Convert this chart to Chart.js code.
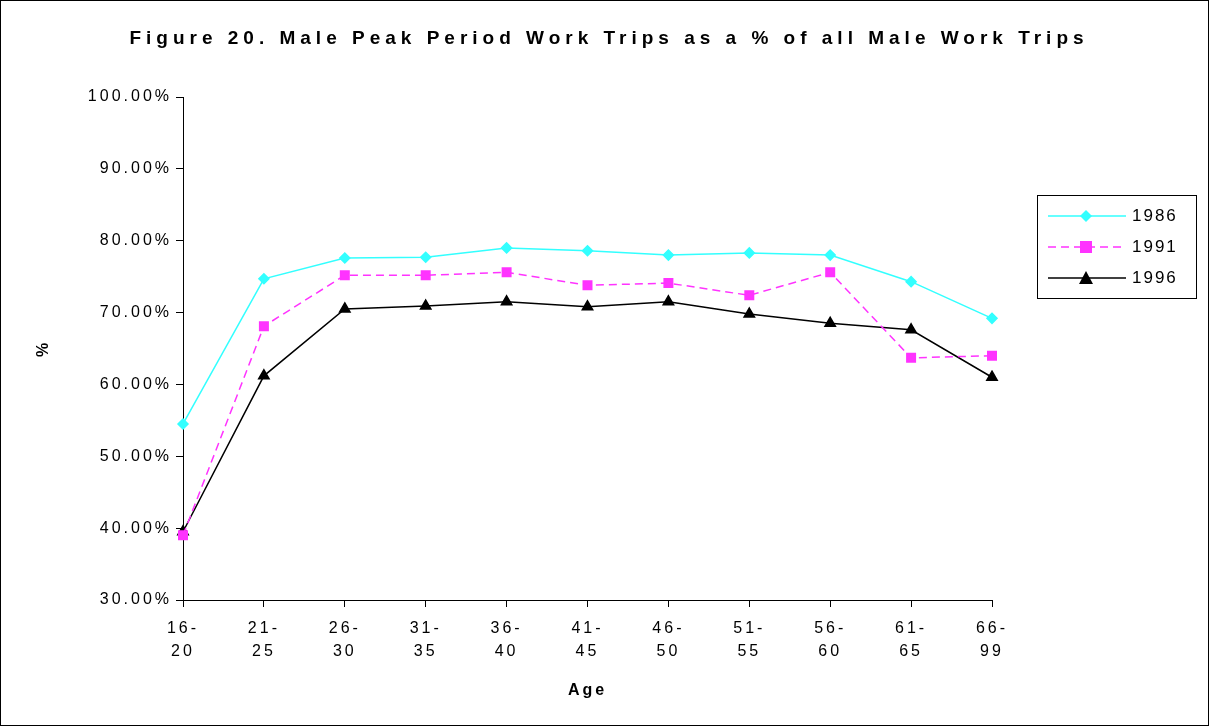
<!DOCTYPE html>
<html>
<head>
<meta charset="utf-8">
<script src="https://cdn.jsdelivr.net/npm/chart.js@4"></script>
<style>
  body { margin: 0; background: #fff; font-family: "Liberation Sans", Arial, sans-serif; }
  #wrap { position: relative; width: 1209px; height: 726px; }
  #frame { position: absolute; left: 0; top: 0; width: 1207px; height: 724px; border: 1px solid #000; pointer-events: none; }
  #title { position: absolute; left: 0; top: 27px; width: 1218px; text-align: center; font-size: 19px; font-weight: bold; letter-spacing: 5px; }
  #legend { position: absolute; left: 1037px; top: 195px; width: 158px; height: 102px; border: 1px solid #000; background: #fff; }
  .item { position: absolute; left: 8px; height: 24px; display: flex; align-items: center; font-size: 17px; letter-spacing: 2px; }
  .item svg { margin-right: 4px; }
</style>
</head>
<body>
<div id="wrap">
  <canvas id="chart" width="1209" height="726"></canvas>
  <div id="frame"></div>
  <div id="title">Figure 20. Male Peak Period Work Trips as a % of all Male Work Trips</div>
  <div id="legend"></div>
</div>
<script>
const ageGroups = [["16-","20"],["21-","25"],["26-","30"],["31-","35"],["36-","40"],["41-","45"],["46-","50"],["51-","55"],["56-","60"],["61-","65"],["66-","99"]];
const trips1986 = [54.5, 74.7, 77.6, 77.7, 79.0, 78.6, 78.0, 78.3, 78.0, 74.3, 69.2];
const trips1991 = [39.0, 68.1, 75.2, 75.2, 75.6, 73.8, 74.1, 72.4, 75.6, 63.7, 64.0];
const trips1996 = [39.5, 61.2, 70.5, 70.9, 71.5, 70.8, 71.5, 69.8, 68.5, 67.6, 61.0];

const series = [
  { label: '1986', data: trips1986, color: '#33ffff', style: 'rectRot', radius: 5, dash: [] },
  { label: '1991', data: trips1991, color: '#ff33ff', style: 'rect', radius: 6, dash: [8, 5] },
  { label: '1996', data: trips1996, color: '#000000', style: 'triangle', radius: 6, dash: [] }
];

// canvas resizing resets the context state, so set the spacing before each pass
const spacing = {
    id: 'spacing',
    beforeLayout(chart) { chart.ctx.letterSpacing = '3px'; },
    beforeDraw(chart) { chart.ctx.letterSpacing = '3px'; }
};

const font = { family: '"Liberation Sans", Arial', size: 16 };
const ctx = document.getElementById('chart').getContext('2d');
new Chart(ctx, {
    type: 'line',
    plugins: [spacing],
    data: {
        labels: ageGroups,
        datasets: series.map(s => ({
            label: s.label,
            data: s.data,
            borderColor: s.color,
            backgroundColor: s.color,
            borderWidth: 1.5,
            borderDash: s.dash,
            pointStyle: s.style,
            pointRadius: s.radius,
            pointBorderColor: s.color,
            pointBackgroundColor: s.color,
            tension: 0
        }))
    },
    options: {
        responsive: false,
        animation: false,
        layout: { padding: { left: 30, right: 217, top: 97, bottom: 22 } },
        plugins: {
            legend: { display: false },
            tooltip: { enabled: false }
        },
        scales: {
            x: {
                offset: false,
                afterFit(scale) { scale.height = 104; },
                grid: { display: true, drawOnChartArea: false, drawTicks: true, tickLength: 7, color: '#000' },
                border: { color: '#000', width: 1 },
                ticks: { color: '#000', font: { ...font, lineHeight: 1.45 }, maxRotation: 0, padding: 10 },
                title: { display: true, text: 'Age', color: '#000', font: { ...font, weight: 'bold' }, padding: { top: 3 } }
            },
            y: {
                min: 30, max: 100,
                afterFit(scale) { scale.width = 153; },
                grid: { display: true, drawOnChartArea: false, drawTicks: true, tickLength: 7, color: '#000' },
                border: { color: '#000', width: 1 },
                ticks: { stepSize: 10, color: '#000', font: font, padding: 4, callback: v => v.toFixed(2) + '%' },
                title: { display: true, text: '%', color: '#000', font: { ...font, weight: 'bold' }, padding: { bottom: 10 } }
            }
        }
    }
});

// legend
const legend = document.getElementById('legend');
const markers = {
    rectRot: c => `<polygon points="40,6 46,12 40,18 34,12" fill="${c}"/>`,
    rect: c => `<rect x="34" y="6" width="12" height="12" fill="${c}"/>`,
    triangle: c => `<polygon points="40,5 47,18 33,18" fill="${c}"/>`
};
series.forEach((s, i) => {
    const div = document.createElement('div');
    div.className = 'item';
    div.style.top = (8 + i * 31) + 'px';
    div.innerHTML = `<svg width="82" height="24"><line x1="2" y1="12" x2="80" y2="12" stroke="${s.color}" stroke-width="1.5" stroke-dasharray="${s.dash.join(',')}"/>${markers[s.style](s.color)}</svg><span>${s.label}</span>`;
    legend.appendChild(div);
});
</script>
</body>
</html>
